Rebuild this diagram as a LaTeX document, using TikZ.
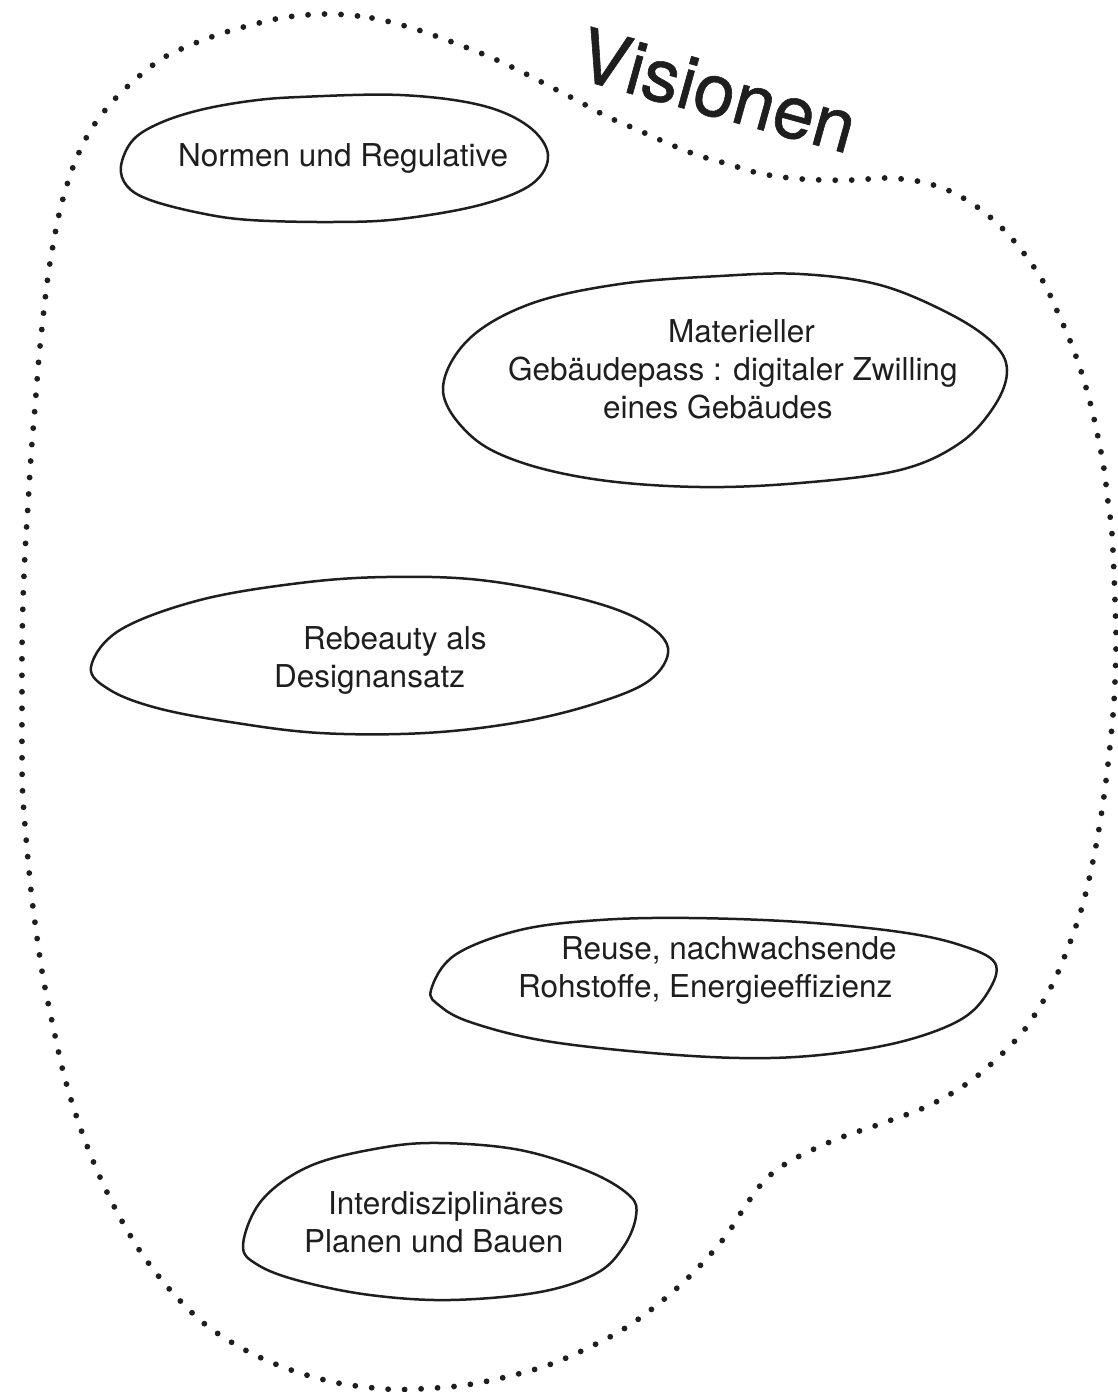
\documentclass[tikz,border=0pt]{standalone}
\usepackage{fontspec}
\setmainfont{TeX Gyre Heros}
\newfontfamily\titlefont{TeX Gyre Heros}[FakeBold=0.8]
\definecolor{ink}{HTML}{1E1E1E}
\begin{document}
\begin{tikzpicture}[x=1pt,y=-1pt,
  blob/.style={draw=ink, line width=2.5pt, line join=round},
  boundary/.style={draw=ink, line width=5.8pt, line cap=round, dash pattern=on 0pt off 16.5pt},
  label/.style={text=ink, font=\fontsize{31.5}{38}\selectfont, align=left, inner sep=0pt, anchor=base west},
  title/.style={text=ink, font=\titlefont\fontsize{74}{80}\selectfont, inner sep=0pt, anchor=base west, rotate=-15.5},
]
\useasboundingbox (0,0) rectangle (1117,1392);

% dotted boundary of the field
\draw[boundary] plot[smooth cycle, tension=0.55] coordinates {
  (330,14) (372,18) (412,28) (452,42) (490,57) (522,72) (551,87) (580,102)
  (608,117) (638,130) (667,143) (697,155) (728,164) (758,173) (790,178)
  (822,180) (854,180) (888,178) (922,182) (952,192) (980,209) (1005,231)
  (1026,256) (1044,283) (1058,313) (1071,343) (1082,374) (1091,406)
  (1098,437) (1104,469) (1108,502) (1112,534) (1115,600) (1116,649)
  (1113,715) (1104,796) (1093,861) (1079,917) (1055,979) (1030,1022)
  (1009,1047) (972,1080) (930,1105) (883,1123) (837,1139) (792,1160)
  (766,1179) (746,1205) (725,1237) (693,1273) (657,1305) (617,1333)
  (559,1361) (514,1375) (466,1385) (418,1389) (386,1389) (338,1383)
  (291,1370) (247,1351) (206,1325) (172,1292) (142,1254) (117,1212)
  (96,1168) (78,1121) (64,1075) (53,1026) (43,977) (36,930) (30,881)
  (23,799) (22,750) (22,701) (22,651) (23,602) (25,553) (28,505) (31,456)
  (35,407) (39,357) (44,309) (48,276) (52,251) (58,219) (66,188) (77,157)
  (92,128) (113,101) (137,78) (163,58) (193,44) (223,33) (255,24) (287,17)
};

% title
\node[title] (visionen) at (574,78) {Visionen};

% blobs; each label is anchored at the baseline of its last line
\draw[blob] plot[smooth cycle, tension=0.6] coordinates {
  (121,166) (133,140) (160,123) (200,110) (250,101) (300,97) (400,95)
  (480,105) (528,126) (548,155) (532,184) (480,205) (400,219) (333,222)
  (250,220) (200,213) (150,200) (127,186)
};
\node[label] (normen) at (178,166) {Normen und Regulative};

\draw[blob] plot[smooth cycle, tension=0.6] coordinates {
  (443,390) (468,340) (530,304) (620,284) (720,276) (800,274) (880,285)
  (950,314) (993,343) (1007,370) (995,405) (960,443) (900,470) (800,483)
  (700,487) (600,480) (520,462) (470,435)
};
\node[label] (pass) at (508,418) {\hspace*{160pt}Materieller\\Gebäudepass : digitaler Zwilling\\\hspace*{95pt}eines Gebäudes};

\draw[blob] plot[smooth cycle, tension=0.6] coordinates {
  (91,667) (120,630) (200,600) (300,583) (386,577) (480,580) (578,598)
  (640,620) (668,648) (650,680) (597,703) (520,722) (425,733) (320,733)
  (230,722) (157,708) (110,690)
};
\node[label] (rebeauty) at (274,687) {\hspace*{29pt}Rebeauty als\\Designansatz};

\draw[blob] plot[smooth cycle, tension=0.6] coordinates {
  (431,990) (455,955) (520,930) (600,920) (690,918) (800,922) (900,932)
  (960,945) (995,963) (988,992) (960,1020) (900,1042) (820,1055) (740,1058)
  (640,1052) (540,1040) (470,1022) (440,1006)
};
\node[label] (reuse) at (518,997) {\hspace*{43pt}Reuse, nachwachsende\\Rohstoffe, Energieeffizienz};

\draw[blob] plot[smooth cycle, tension=0.6] coordinates {
  (243,1245) (262,1200) (310,1166) (380,1148) (440,1143) (520,1150)
  (590,1172) (630,1196) (636,1216) (624,1246) (597,1273) (540,1292)
  (450,1300) (370,1295) (300,1281) (258,1265)
};
\node[label] (inter) at (304,1252) {\hspace*{24pt}Interdisziplinäres\\Planen und Bauen};
\end{tikzpicture}
\end{document}
